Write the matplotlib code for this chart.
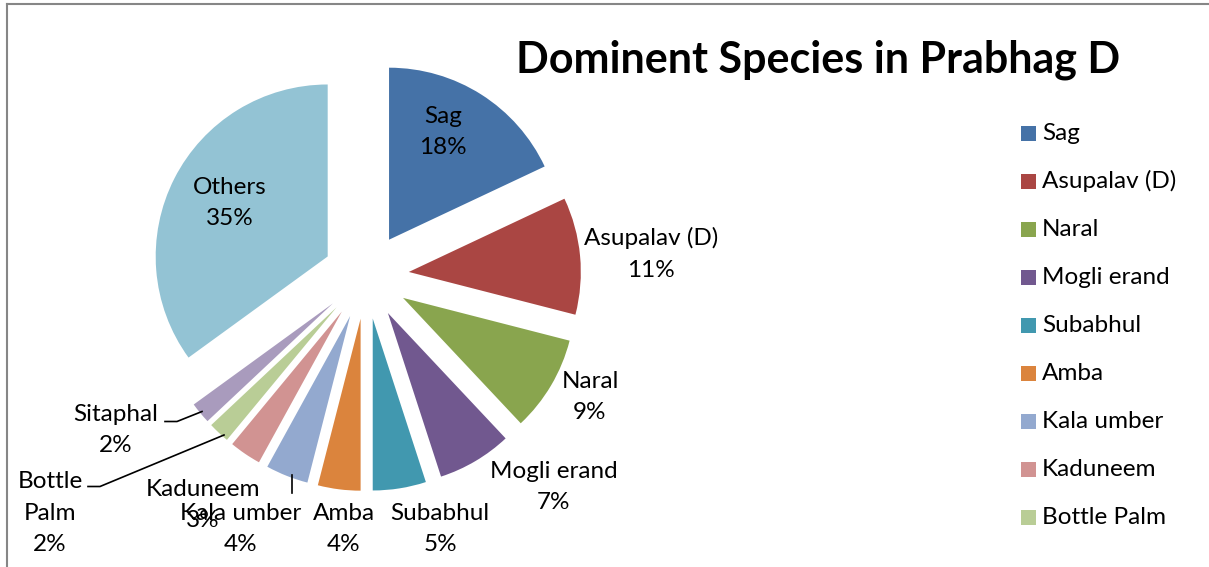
import matplotlib
matplotlib.use("Agg")
import matplotlib.pyplot as plt
from matplotlib.patches import Rectangle
from matplotlib.lines import Line2D

categories = ["Sag", "Asupalav (D)", "Naral", "Mogli erand", "Subabhul", "Amba",
              "Kala umber", "Kaduneem", "Bottle Palm", "Sitaphal", "Others"]
values = [18, 11, 9, 7, 5, 4, 4, 3, 2, 2, 35]
colors = ["#4572A7", "#AA4643", "#89A54E", "#71588F", "#4198AF", "#DB843D",
          "#93A9CF", "#D19392", "#B9CD96", "#A99BBD", "#93C3D4"]
title = "Dominent Species in Prabhag D"
legend_items = categories[:9]

W, H = 1209, 567
plt.rcParams['font.family'] = ['Lato', 'DejaVu Sans']
fig = plt.figure(figsize=(W / 100, H / 100), dpi=100)
ax = fig.add_axes([0, 0, 1, 1])

def Y(y):
    return H - y

R = 172
EXP = 43
wedges, _ = ax.pie(values, colors=colors, startangle=90, counterclock=False,
                   center=(366, Y(276)), radius=R, explode=[EXP] * len(values),
                   wedgeprops=dict(linewidth=0), frame=True)
ax.set_xlim(0, W)
ax.set_ylim(0, H)
ax.set_aspect("auto")
ax.axis("off")

# chart border (left and top only visible)
ax.add_line(Line2D([6.5, 6.5], [0, Y(4)], color="#868686", lw=1.5))
ax.add_line(Line2D([6.5, W], [Y(4), Y(4)], color="#868686", lw=1.5))

# title
ax.text(818, Y(60), title, ha="center", va="center", fontsize=31,
        fontweight="bold", color="black")

FS = 17.5
LS = 1.6
# data labels (text positions)
label_pos = {
    "Sag": (443, 132, None),
    "Asupalav (D)": (651, 254, None),
    "Naral": (590, 397, None),
    "Mogli erand": (554, 487, None),
    "Subabhul": (440, 529, None),
    "Amba": (344, 529, None),
    "Kala umber": (241, 529, None),
    "Kaduneem": (203, 505, None),
    "Bottle Palm": (50, 513, "Bottle\nPalm\n{p}%"),
    "Sitaphal": (116, 430, None),
    "Others": (230, 203, None),
}
for cat, val in zip(categories, values):
    x, y, fmt = label_pos[cat]
    txt = fmt.format(p=val) if fmt else f"{cat}\n{val}%"
    ax.text(x, Y(y), txt, ha="center", va="center", fontsize=FS,
            linespacing=LS, color="black")

# leader lines
ax.add_line(Line2D([165, 177, 202], [Y(421.5), Y(421.5), Y(411.5)], color="black", lw=1.2))
ax.add_line(Line2D([88, 100, 224], [Y(486.5), Y(486.5), Y(435)], color="black", lw=1.2))
ax.add_line(Line2D([292, 292], [Y(475), Y(493)], color="black", lw=1.2))

# legend
for i, name in enumerate(legend_items):
    yc = 133 + 48 * i
    ax.add_patch(Rectangle((1021, Y(yc + 7.5)), 15, 15, color=colors[i], lw=0))
    ax.text(1042, Y(yc), name, ha="left", va="center", fontsize=FS, color="black")

fig.savefig("out.png", dpi=100)
